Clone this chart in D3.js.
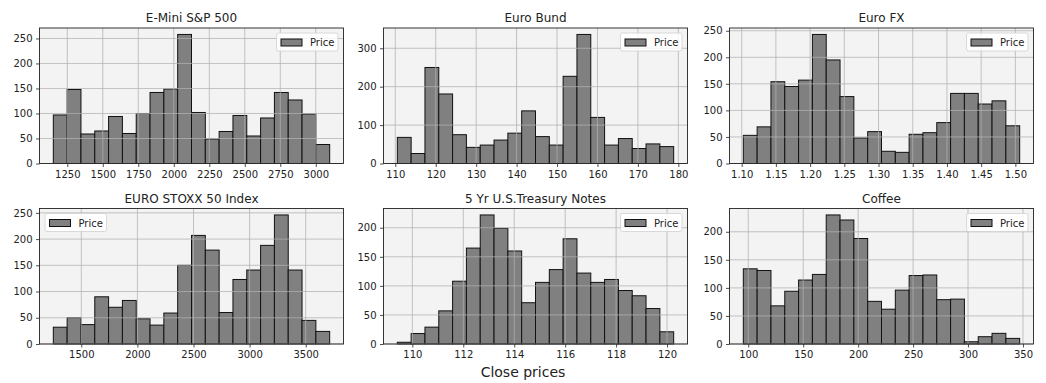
<!DOCTYPE html>
<html><head><meta charset="utf-8">
<script src="https://cdn.jsdelivr.net/npm/d3@7"></script>
<style>
body{margin:0;background:#fff}
text{font-family:"DejaVu Sans",sans-serif;fill:#222}
</style>
</head><body>
<svg id="c" width="1046" height="383"></svg>
<script>
// ---- data ----
const titles = ["E-Mini S&P 500","Euro Bund","Euro FX","EURO STOXX 50 Index","5 Yr U.S.Treasury Notes","Coffee"];

const spCounts = [97,148,59,65,94,60,100,142,149,258,102,49,64,96,55,91,142,127,99,38];
const spRange = [1151.5,3098];
const spXTicks = [1250,1500,1750,2000,2250,2500,2750,3000];
const spYTicks = [0,50,100,150,200,250];

const bundCounts = [68,26,250,181,75,42,48,61,79,137,70,48,227,336,120,48,65,39,51,44];
const bundRange = [110.5,178.85];
const bundXTicks = [110,120,130,140,150,160,170,180];
const bundYTicks = [0,100,200,300];

const fxCounts = [53,69,154,145,157,243,195,126,48,60,23,21,55,58,77,132,132,112,118,71];
const fxRange = [1.1024,1.5063];
const fxXTicks = [1.10,1.15,1.20,1.25,1.30,1.35,1.40,1.45,1.50];
const fxYTicks = [0,50,100,150,200,250];

const stoxxCounts = [32,50,37,90,70,83,48,36,59,150,207,179,60,123,141,188,246,141,45,24];
const stoxxRange = [1250.7,3713.6];
const stoxxXTicks = [1500,2000,2500,3000,3500];
const stoxxYTicks = [0,50,100,150,200,250];

const tnCounts = [3,18,29,57,108,165,222,199,160,71,106,128,181,122,106,111,92,83,61,21];
const tnRange = [109.41,120.26];
const tnXTicks = [110,112,114,116,118,120];
const tnYTicks = [0,50,100,150,200];

const coffeeCounts = [134,131,68,94,114,124,230,221,188,76,62,96,122,123,79,80,4,13,19,10];
const coffeeRange = [95.5,347];
const coffeeXTicks = [100,150,200,250,300,350];
const coffeeYTicks = [0,50,100,150,200];

const seriesLabel = "Price";
const xLabel = "Close prices";

// ---- layout ----
const panels = [
  {counts:spCounts, range:spRange, xt:spXTicks, yt:spYTicks, fmt:d3.format("d"), legend:"right", x:39.5, y:28},
  {counts:bundCounts, range:bundRange, xt:bundXTicks, yt:bundYTicks, fmt:d3.format("d"), legend:"right", x:383.5, y:28},
  {counts:fxCounts, range:fxRange, xt:fxXTicks, yt:fxYTicks, fmt:d3.format(".2f"), legend:"right", x:729.5, y:28},
  {counts:stoxxCounts, range:stoxxRange, xt:stoxxXTicks, yt:stoxxYTicks, fmt:d3.format("d"), legend:"left", x:39.5, y:208.5},
  {counts:tnCounts, range:tnRange, xt:tnXTicks, yt:tnYTicks, fmt:d3.format("d"), legend:"right", x:383.5, y:208.5},
  {counts:coffeeCounts, range:coffeeRange, xt:coffeeXTicks, yt:coffeeYTicks, fmt:d3.format("d"), legend:"right", x:729.5, y:208.5}
];
const W = 304, H = 135.5;

const svg = d3.select("#c");

panels.forEach((p, i) => {
  const n = p.counts.length;
  const [lo, hi] = p.range;
  const bw = (hi - lo) / n;
  const pad = (hi - lo) * 0.05;
  const x = d3.scaleLinear().domain([lo - pad, hi + pad]).range([0, W]);
  const y = d3.scaleLinear().domain([0, d3.max(p.counts) * 1.05]).range([H, 0]);
  const bins = p.counts.map((c, k) => ({x0: lo + k * bw, x1: lo + (k + 1) * bw, c}));

  const g = svg.append("g").attr("transform", `translate(${p.x},${p.y})`);
  g.append("rect").attr("width", W).attr("height", H).attr("fill", "#f3f3f3");

  g.selectAll("rect.bar").data(bins).join("rect").attr("class", "bar")
    .attr("x", d => x(d.x0)).attr("width", d => x(d.x1) - x(d.x0))
    .attr("y", d => y(d.c)).attr("height", d => y(0) - y(d.c))
    .attr("fill", "#808080").attr("stroke", "#111").attr("stroke-width", 1);

  // grid on top
  const grid = g.append("g").attr("stroke", "#b0b0b0").attr("stroke-opacity", 0.75).attr("stroke-width", 1);
  grid.selectAll("line.gx").data(p.xt).join("line").attr("class","gx")
    .attr("x1", d => x(d)).attr("x2", d => x(d)).attr("y1", 0).attr("y2", H);
  grid.selectAll("line.gy").data(p.yt).join("line").attr("class","gy")
    .attr("x1", 0).attr("x2", W).attr("y1", d => y(d)).attr("y2", d => y(d));

  // axes
  const xa = g.append("g").attr("transform", `translate(0,${H})`)
    .call(d3.axisBottom(x).tickValues(p.xt).tickFormat(p.fmt).tickSize(3.5).tickPadding(3.5).tickSizeOuter(0));
  const ya = g.append("g")
    .call(d3.axisLeft(y).tickValues(p.yt).tickFormat(d3.format("d")).tickSize(3.5).tickPadding(3.5).tickSizeOuter(0));
  [xa, ya].forEach(a => {
    a.select(".domain").remove();
    a.selectAll("line").attr("stroke", "#222").attr("stroke-width", 0.8);
    a.selectAll("text").attr("font-size", 10).attr("fill", "#222").attr("font-family", '"DejaVu Sans",sans-serif');
  });

  // frame
  g.append("rect").attr("width", W).attr("height", H).attr("fill", "none").attr("stroke", "#222").attr("stroke-width", 0.9);

  // title
  g.append("text").attr("x", W / 2).attr("y", -6).attr("text-anchor", "middle")
    .attr("font-size", 12).text(titles[i]);

  // legend
  const lw = 61.5, lh = 18;
  const lx = p.legend === "right" ? W - lw - 5.5 : 5.5;
  const lg = g.append("g").attr("transform", `translate(${lx},5)`);
  lg.append("rect").attr("width", lw).attr("height", lh).attr("rx", 2)
    .attr("fill", "#fff").attr("fill-opacity", 0.85).attr("stroke", "#d0d0d0").attr("stroke-width", 0.8);
  lg.append("rect").attr("x", 4.5).attr("y", 6).attr("width", 21).attr("height", 7)
    .attr("fill", "#808080").attr("stroke", "#111").attr("stroke-width", 1);
  lg.append("text").attr("x", 33.5).attr("y", 13).attr("font-size", 10).text(seriesLabel);
});

svg.append("text").attr("x", 523).attr("y", 377).attr("text-anchor", "middle")
  .attr("font-size", 14).text(xLabel);
</script>
</body></html>
